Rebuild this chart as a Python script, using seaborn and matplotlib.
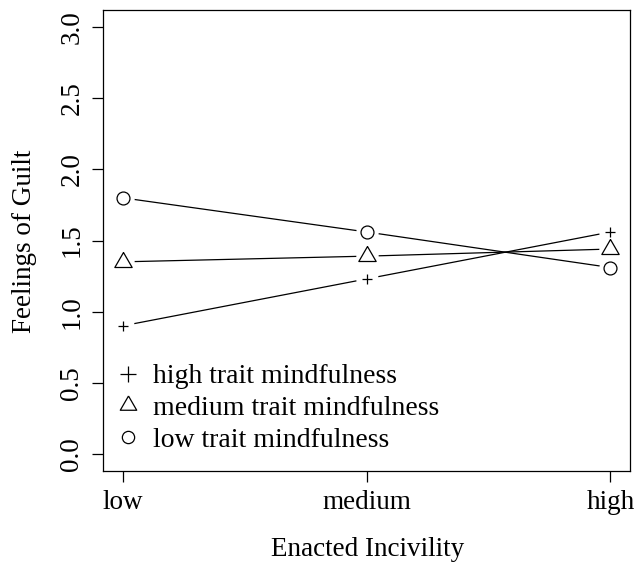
import matplotlib
matplotlib.use("Agg")
import matplotlib.pyplot as plt
import seaborn as sns
import pandas as pd
from matplotlib.lines import Line2D

# ---- data ----
incivility_levels = ["low", "medium", "high"]
high_trait = [0.90, 1.23, 1.56]
medium_trait = [1.35, 1.39, 1.44]
low_trait = [1.80, 1.56, 1.31]
group_labels = ["high trait mindfulness", "medium trait mindfulness", "low trait mindfulness"]
y_ticks = [0.0, 0.5, 1.0, 1.5, 2.0, 2.5, 3.0]

sns.set_theme(style="white")
plt.rcParams['font.family'] = ['Liberation Serif', 'DejaVu Serif']
plt.rcParams['text.color'] = 'black'

tri = [(0, 1.555), (1.3468, -0.7776), (-1.3468, -0.7776), (0, 1.555)]
marker_map = {group_labels[0]: ('+', 7.8), group_labels[1]: (tri, 14.4), group_labels[2]: ('o', 9.3)}

rows = []
for lab, vals in zip(group_labels, [high_trait, medium_trait, low_trait]):
    for lev, v in zip(incivility_levels, vals):
        rows.append({"incivility": lev, "guilt": v, "group": lab})
df = pd.DataFrame(rows)

W, H = 636, 563
fig = plt.figure(figsize=(W / 100, H / 100), dpi=100)
left, right, top, bottom = 103, 630, 10, 471
ax = fig.add_axes([left / W, 1 - bottom / H, (right - left) / W, (bottom - top) / H])

for lab in group_labels:
    sub = df[df["group"] == lab]
    sns.lineplot(data=sub, x="incivility", y="guilt", color="black", lw=0.9,
                 ax=ax, sort=False, legend=False, zorder=2)
sns.scatterplot(data=df, x="incivility", y="guilt", color="white", s=260,
                linewidth=0, ax=ax, legend=False, zorder=3)
for lab in group_labels:
    sub = df[df["group"] == lab]
    m, ms = marker_map[lab]
    sns.lineplot(data=sub, x="incivility", y="guilt", ax=ax, sort=False, legend=False,
                 linestyle="none", marker=m, markersize=ms, markerfacecolor="none",
                 markeredgecolor="black", markeredgewidth=0.9, color="black", zorder=4)

ax.set_xlim(-0.08, 2.08)
ax.set_ylim(-0.12, 3.12)
ax.set_xticks(range(len(incivility_levels)))
ax.set_xticklabels(incivility_levels)
ax.set_yticks(y_ticks)
ax.set_yticklabels([f"{t:.1f}" for t in y_ticks])
for lbl in ax.get_yticklabels():
    lbl.set_rotation(90)
    lbl.set_va("center")
ax.tick_params(axis="both", which="major", direction="out", length=8, width=0.9,
               color="black", labelsize=19.5, labelcolor="black", pad=5.5,
               left=True, bottom=True)
for sp in ax.spines.values():
    sp.set_visible(True)
    sp.set_color("black")
    sp.set_linewidth(0.9)
ax.set_xlabel("")
ax.set_ylabel("")
fig.text(25 / W, 1 - 241 / H, "Feelings of Guilt", rotation=90, ha="center", va="center",
         fontsize=19.5, color="black")
fig.text(368 / W, 1 - 549 / H, "Enacted Incivility", ha="center", va="center",
         fontsize=19.5, color="black")

handles = []
for lab in group_labels:
    m, ms = marker_map[lab]
    ms_leg = ms * 0.95 if lab != group_labels[0] else ms * 1.45
    handles.append(Line2D([], [], linestyle="none", marker=m, markersize=ms_leg,
                          markerfacecolor="none", markeredgecolor="black", markeredgewidth=0.9))
leg = ax.legend(handles, group_labels, loc="upper left", bbox_to_anchor=(0.022, 0.232),
                frameon=False, fontsize=20, handlelength=1.0, handletextpad=0.4,
                borderpad=0, borderaxespad=0, labelspacing=0.22)
for t in leg.get_texts():
    t.set_color("black")

fig.savefig("out.png", dpi=100)
